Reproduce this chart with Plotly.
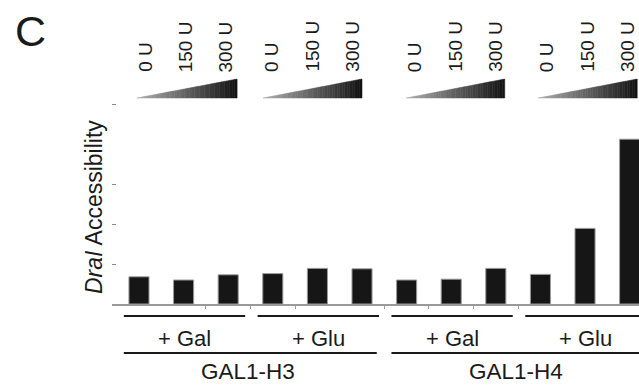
import plotly.graph_objects as go

# ---- data ----
strains = ["GAL1-H3", "GAL1-H4"]
media = ["+ Gal", "+ Glu"]
doses = ["0 U", "150 U", "300 U"]
accessibility = [0.68, 0.60, 0.73, 0.76, 0.89, 0.88,
                 0.60, 0.62, 0.89, 0.74, 1.89, 4.12]
y_tickvals = [1, 2, 3, 5]
x_tickvals = [1.5, 2.5, 3.5, 5.5, 6.5, 7.5, 8.5]

W, H = 639, 385
ML, MR, MT, MB = 112, 0, 100, 81
PW, PH = W - ML - MR, H - MT - MB
FONT = "Liberation Sans, Arial, sans-serif"
TXT = "#1a1a1a"

def py(p):  # pixel y -> paper y
    return (H - MB - p) / PH

def pxp(p):  # pixel x -> paper x
    return (p - ML) / PW

xs = list(range(len(accessibility)))

fig = go.Figure()
fig.add_trace(go.Bar(
    x=xs, y=accessibility, width=0.45,
    marker=dict(color="#161616", line=dict(color="#9a9a9a", width=1)),
    showlegend=False, hoverinfo="skip"))

shapes = []
annotations = []

n_dose = len(doses)
n_med = len(media)
# gradient wedges and dose labels (one per strain x medium group)
wedge_offsets = [(-0.05, 2.2), (-0.22, 2.0), (-0.01, 2.2), (-0.05, 2.17)]
label_offsets = [0.18, 1.1, 2.0]
yb, yt = py(98), py(79)
N = 40
for g in range(len(strains) * n_med):
    base = g * n_dose
    x0, x1 = base + wedge_offsets[g][0], base + wedge_offsets[g][1]
    for k in range(N):
        a = x0 + (x1 - x0) * k / N
        b = x0 + (x1 - x0) * (k + 1) / N
        ya = yb + (yt - yb) * k / N
        ybb = yb + (yt - yb) * (k + 1) / N
        c = int(175 - (175 - 18) * (k + 0.5) / N)
        col = f"rgb({c},{c},{c})"
        shapes.append(dict(type="path", xref="x", yref="paper",
                           path=f"M {a},{yb} L {b},{yb} L {b},{ybb} L {a},{ya} Z",
                           fillcolor=col, line=dict(color=col, width=0.5), layer="above"))
    for j, d in enumerate(doses):
        annotations.append(dict(x=x0 + label_offsets[j], y=py(74), xref="x", yref="paper",
                                text=d, textangle=-90, showarrow=False,
                                xanchor="center", yanchor="bottom",
                                font=dict(size=19, color=TXT, family=FONT)))

# medium lines and labels
for s in range(len(strains)):
    for m, med in enumerate(media):
        base = s * n_dose * n_med + m * n_dose
        shapes.append(dict(type="line", xref="x", yref="paper",
                           x0=base - 0.34, x1=base + 2.38, y0=py(316), y1=py(316),
                           line=dict(color="#1a1a1a", width=2)))
        annotations.append(dict(x=base + 1.02, y=py(338), xref="x", yref="paper",
                                text=med, showarrow=False, xanchor="center", yanchor="middle",
                                font=dict(size=22, color=TXT, family=FONT)))
    base = s * n_dose * n_med
    shapes.append(dict(type="line", xref="x", yref="paper",
                       x0=base - 0.34, x1=base + 5.33, y0=py(353), y1=py(353),
                       line=dict(color="#1a1a1a", width=2)))
    annotations.append(dict(x=base + 2.45, y=py(371), xref="x", yref="paper",
                            text=strains[s], showarrow=False, xanchor="center", yanchor="middle",
                            font=dict(size=22.5, color=TXT, family=FONT)))

# y title and panel letter
annotations.append(dict(x=pxp(94), y=py(207), xref="paper", yref="paper",
                        text="<i>DraI</i> Accessibility", textangle=-90, showarrow=False,
                        xanchor="center", yanchor="middle",
                        font=dict(size=23, color=TXT, family=FONT)))
annotations.append(dict(x=pxp(30), y=py(31), xref="paper", yref="paper",
                        text="C", showarrow=False, xanchor="center", yanchor="middle",
                        font=dict(size=43, color=TXT, family=FONT)))

fig.update_layout(
    width=W, height=H,
    margin=dict(l=ML, r=MR, t=MT, b=MB, autoexpand=False),
    paper_bgcolor="white", plot_bgcolor="white",
    shapes=shapes, annotations=annotations,
    xaxis=dict(range=[-0.605, 11.21], showgrid=False, zeroline=False,
               showline=True, linecolor="#9a9a9a", linewidth=1.5,
               tickmode="array", tickvals=x_tickvals, ticks="outside",
               ticklen=3, tickcolor="#9a9a9a", showticklabels=False),
    yaxis=dict(range=[0, 5.1], showgrid=False, zeroline=False, showline=False,
               tickmode="array", tickvals=y_tickvals, ticks="inside",
               ticklen=4, tickcolor="#8a8a8a", showticklabels=False),
)

fig.write_html("out.html", config={"displayModeBar": False},
               post_script="document.body.style.margin='0';document.body.style.overflow='hidden';")
